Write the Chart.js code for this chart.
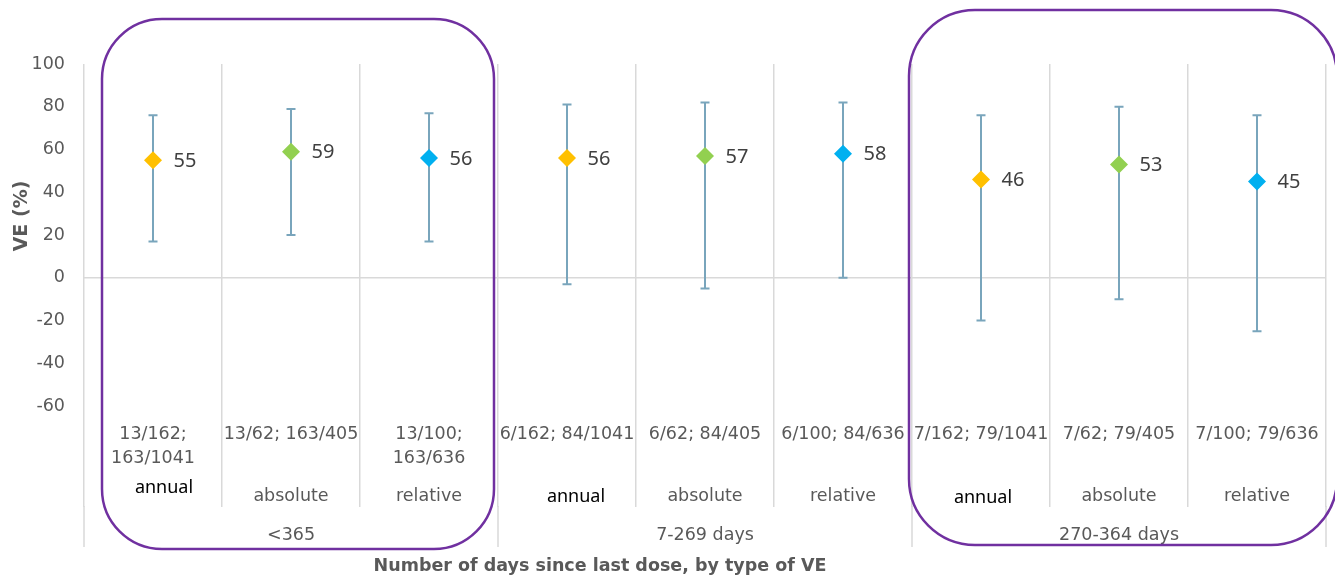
<!DOCTYPE html>
<html>
<head>
<meta charset="utf-8">
<script src="https://cdn.jsdelivr.net/npm/chart.js@4.4.1/dist/chart.umd.min.js"></script>
<style>
  html, body { margin: 0; padding: 0; background: #fff; }
</style>
</head>
<body>
<canvas id="veChart" width="1335" height="577"></canvas>
<script>
// values
const groups = ['<365', '7-269 days', '270-364 days'];
const veTypes = ['annual', 'absolute', 'relative'];
const countLabels = [
    ['13/162;', '163/1041'], ['13/62; 163/405'], ['13/100;', '163/636'],
    ['6/162; 84/1041'], ['6/62; 84/405'], ['6/100; 84/636'],
    ['7/162; 79/1041'], ['7/62; 79/405'], ['7/100; 79/636']
];
const veValues = [55, 59, 56, 56, 57, 58, 46, 53, 45];
const ciLow = [17, 20, 17, -3, -5, 0, -20, -10, -25];
const ciHigh = [76, 79, 77, 81, 82, 82, 76, 80, 76];
const yMin = -60;
const yMax = 100;
const yStep = 20;
const typeColors = ['#FFC000', '#92D050', '#00B0F0'];

const categories = [];
const pointColors = [];
groups.forEach((g) => {
    veTypes.forEach((t, j) => {
        categories.push(g + ' ' + t);
        pointColors.push(typeColors[j]);
    });
});

const grey = '#595959';
const gridGrey = '#d9d9d9';

const errorBars = {
    id: 'errorBars',
    beforeDatasetsDraw(chart) {
        const ctx = chart.ctx;
        const xs = chart.scales.x, ys = chart.scales.y;
        ctx.save();
        ctx.strokeStyle = '#79a5bc';
        ctx.lineWidth = 2;
        for (let i = 0; i < veValues.length; i++) {
            const x = xs.getPixelForValue(i);
            const lo = ys.getPixelForValue(ciLow[i]);
            const hi = ys.getPixelForValue(ciHigh[i]);
            ctx.beginPath();
            ctx.moveTo(x, lo); ctx.lineTo(x, hi);
            ctx.moveTo(x - 4.5, lo); ctx.lineTo(x + 4.5, lo);
            ctx.moveTo(x - 4.5, hi); ctx.lineTo(x + 4.5, hi);
            ctx.stroke();
        }
        ctx.restore();
    },
    afterDatasetsDraw(chart) {
        const ctx = chart.ctx;
        const xs = chart.scales.x, ys = chart.scales.y;
        ctx.save();
        ctx.fillStyle = '#404040';
        ctx.font = '20px "Noto Sans"';
        ctx.textAlign = 'center';
        ctx.textBaseline = 'middle';
        veValues.forEach((v, i) => {
            ctx.fillText(String(v), xs.getPixelForValue(i) + 32, ys.getPixelForValue(v) + 1);
        });
        ctx.restore();
    }
};

const categoryLabels = {
    id: 'categoryLabels',
    afterDraw(chart) {
        const ctx = chart.ctx;
        const xs = chart.scales.x;
        const area = chart.chartArea;
        const base = area.bottom;
        ctx.save();

        // longer separators between the groups
        ctx.strokeStyle = gridGrey;
        ctx.lineWidth = 1.5;
        for (let g = 0; g <= groups.length; g++) {
            const x = xs.getPixelForValue(g * 3 - 0.5);
            ctx.beginPath();
            ctx.moveTo(x, base + 100);
            ctx.lineTo(x, base + 141);
            ctx.stroke();
        }

        ctx.textAlign = 'center';
        ctx.textBaseline = 'middle';
        ctx.font = '17.5px "DejaVu Sans"';
        ctx.fillStyle = grey;
        countLabels.forEach((lines, i) => {
            const x = xs.getPixelForValue(i);
            lines.forEach((s, k) => ctx.fillText(s, x, base + 28 + k * 24));
        });

        const annualShift = [[11, -8], [9, 1], [2, 2]];
        categories.forEach((c, i) => {
            const j = i % 3, g = Math.floor(i / 3);
            const x = xs.getPixelForValue(i);
            if (j === 0) {
                ctx.font = '18px "Noto Sans"';
                ctx.fillStyle = '#000';
                ctx.fillText(veTypes[j], x + annualShift[g][0], base + 90 + annualShift[g][1]);
            } else {
                ctx.font = '17.5px "DejaVu Sans"';
                ctx.fillStyle = grey;
                ctx.fillText(veTypes[j], x, base + 90);
            }
        });

        ctx.font = '17.5px "DejaVu Sans"';
        ctx.fillStyle = grey;
        groups.forEach((g, k) => {
            ctx.fillText(g, xs.getPixelForValue(k * 3 + 1), base + 129);
        });

        // axis titles
        ctx.font = 'bold 17.5px "DejaVu Sans"';
        ctx.fillText('Number of days since last dose, by type of VE', 600, 566);
        ctx.save();
        ctx.translate(22, 216);
        ctx.rotate(-Math.PI / 2);
        ctx.font = 'bold 19px "DejaVu Sans"';
        ctx.fillText('VE (%)', 0, 0);
        ctx.restore();

        // purple highlight boxes round the first and last group
        ctx.strokeStyle = '#7030A0';
        ctx.lineWidth = 2.5;
        const left1 = xs.getPixelForValue(-0.5) + 18;
        const right1 = xs.getPixelForValue(2.5) - 4;
        ctx.beginPath();
        ctx.roundRect(left1, 19, right1 - left1, 530, 60);
        ctx.stroke();
        const left3 = xs.getPixelForValue(5.5) - 3;
        const right3 = xs.getPixelForValue(8.5) + 11;
        ctx.beginPath();
        ctx.roundRect(left3, 10, right3 - left3, 535, 66);
        ctx.stroke();

        ctx.restore();
    }
};

new Chart(document.getElementById('veChart'), {
    type: 'line',
    data: {
        labels: categories,
        datasets: [{
            label: 'VE',
            data: veValues,
            showLine: false,
            pointStyle: 'rectRot',
            pointRadius: 9,
            pointHoverRadius: 9,
            pointBorderWidth: 0,
            pointBackgroundColor: pointColors,
            pointBorderColor: pointColors
        }]
    },
    options: {
        responsive: false,
        animation: false,
        events: [],
        layout: { padding: { left: 0, top: 64, right: 9, bottom: 0 } },
        plugins: {
            legend: { display: false },
            tooltip: { enabled: false }
        },
        scales: {
            x: {
                type: 'category',
                offset: true,
                border: { display: false },
                grid: {
                    offset: true,
                    color: gridGrey,
                    lineWidth: 1.5,
                    drawTicks: true,
                    tickLength: 101
                },
                ticks: { display: false },
                afterFit(scale) { scale.height = 171; }
            },
            y: {
                min: yMin,
                max: yMax,
                border: { display: false },
                grid: {
                    drawTicks: false,
                    color: (c) => (c.tick && c.tick.value === 0 ? gridGrey : 'rgba(0,0,0,0)'),
                    lineWidth: 1.5
                },
                ticks: {
                    stepSize: yStep,
                    padding: 19,
                    color: grey,
                    font: { family: 'DejaVu Sans', size: 17.5 }
                },
                afterFit(scale) { scale.width = 84; }
            }
        }
    },
    plugins: [errorBars, categoryLabels]
});
</script>
</body>
</html>
